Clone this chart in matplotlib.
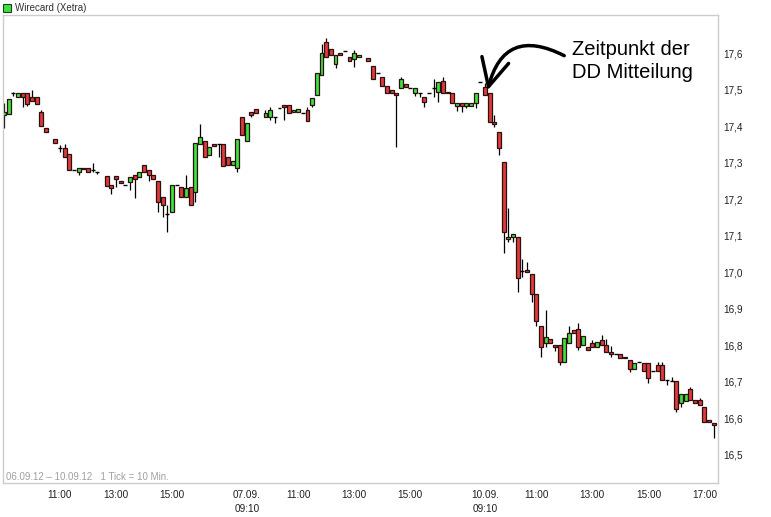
import numpy as np
import matplotlib.pyplot as plt
from matplotlib.patches import FancyArrowPatch, Rectangle

nan = np.nan

# 10 minute candles, 51 slots per trading day (09:00 ... 17:20), nan = no trade in that slot
# 06.09.12
open_d1 = [17.431, 17.434, 17.491, 17.480, 17.491, 17.491, 17.480, 17.480, 17.439, 17.395,
           nan, 17.365, 17.341, 17.341, 17.324, 17.280, 17.275, 17.286, 17.286, 17.280,
           17.275, nan, 17.264, 17.239, 17.264, 17.250, 17.239, 17.247, 17.267, 17.261,
           17.294, 17.280, 17.267, 17.250, 17.206, 17.160, 17.165, 17.239, 17.234, 17.206,
           17.234, 17.220, 17.351, 17.360, 17.321, 17.351, 17.351, 17.351, 17.316, 17.294,
           17.286]
high_d1 = [17.464, 17.475, 17.494, 17.491, 17.491, 17.491, 17.499, 17.480, 17.445, 17.395,
           nan, 17.365, 17.349, 17.351, 17.324, 17.280, 17.286, 17.286, 17.286, 17.299,
           17.275, nan, 17.264, 17.239, 17.264, 17.250, 17.239, 17.261, 17.267, 17.275,
           17.294, 17.280, 17.267, 17.250, 17.206, 17.184, 17.239, 17.239, 17.234, 17.267,
           17.234, 17.354, 17.406, 17.360, 17.343, 17.351, 17.351, 17.351, 17.316, 17.305,
           17.365]
low_d1 = [17.395, 17.434, 17.483, 17.480, 17.453, 17.456, 17.469, 17.461, 17.401, 17.384,
          nan, 17.354, 17.330, 17.316, 17.280, 17.280, 17.267, 17.283, 17.275, 17.275,
          17.269, nan, 17.236, 17.215, 17.234, 17.245, 17.239, 17.225, 17.204, 17.261,
          17.275, 17.250, 17.256, 17.165, 17.151, 17.110, 17.165, 17.239, 17.206, 17.206,
          17.184, 17.193, 17.351, 17.316, 17.321, 17.346, 17.316, 17.291, 17.294, 17.294,
          17.275]
close_d1 = [17.439, 17.475, 17.491, 17.491, 17.480, 17.461, 17.469, 17.461, 17.401, 17.384,
            nan, 17.354, 17.341, 17.316, 17.280, 17.280, 17.286, 17.283, 17.275, 17.280,
            17.275, nan, 17.236, 17.231, 17.256, 17.245, 17.239, 17.261, 17.256, 17.275,
            17.275, 17.267, 17.256, 17.193, 17.184, 17.160, 17.239, 17.239, 17.206, 17.231,
            17.184, 17.354, 17.371, 17.316, 17.343, 17.346, 17.351, 17.291, 17.294, 17.305,
            17.365]

# 07.09.12
open_d2 = [17.425, 17.360, 17.439, 17.447, nan, 17.425, 17.425, 17.425, 17.450, 17.458,
           17.458, 17.439, 17.439, 17.436, 17.445, 17.458, 17.486, 17.540, 17.631, 17.612,
           17.571, 17.601, 17.606, 17.590, 17.584, 17.590, nan, 17.587, 17.565, 17.546,
           17.535, 17.510, 17.499, 17.491, 17.505, 17.516, 17.505, 17.491, 17.491, 17.480,
           17.491, 17.505, 17.494, 17.524, 17.494, 17.491, 17.456, 17.464, 17.456, 17.456,
           17.464]
high_d2 = [17.425, 17.409, 17.439, 17.447, nan, 17.445, 17.453, 17.425, 17.450, 17.458,
           17.458, 17.445, 17.447, 17.436, 17.453, 17.478, 17.546, 17.625, 17.642, 17.612,
           17.595, 17.601, 17.606, 17.590, 17.609, 17.595, nan, 17.587, 17.565, 17.546,
           17.535, 17.510, 17.499, 17.491, 17.535, 17.516, 17.505, 17.505, 17.491, 17.480,
           17.491, 17.530, 17.521, 17.535, 17.494, 17.491, 17.464, 17.464, 17.464, 17.464,
           17.491]
low_d2 = [17.376, 17.360, 17.425, 17.436, nan, 17.425, 17.417, 17.409, 17.450, 17.417,
          17.436, 17.439, 17.439, 17.436, 17.415, 17.453, 17.486, 17.540, 17.590, 17.595,
          17.560, 17.595, 17.606, 17.579, 17.562, 17.590, nan, 17.579, 17.530, 17.546,
          17.510, 17.491, 17.491, 17.343, 17.505, 17.508, 17.505, 17.483, 17.480, 17.453,
          17.491, 17.480, 17.467, 17.491, 17.491, 17.464, 17.442, 17.439, 17.450, 17.456,
          17.450]
close_d2 = [17.376, 17.409, 17.431, 17.436, nan, 17.436, 17.445, 17.425, 17.450, 17.453,
            17.436, 17.445, 17.447, 17.436, 17.415, 17.478, 17.546, 17.601, 17.590, 17.595,
            17.595, 17.595, 17.606, 17.579, 17.601, 17.595, nan, 17.579, 17.530, 17.546,
            17.510, 17.491, 17.491, 17.486, 17.530, 17.508, 17.505, 17.505, 17.491, 17.467,
            17.491, 17.505, 17.521, 17.491, 17.491, 17.464, 17.464, 17.456, 17.464, 17.464,
            17.491]

# 10.09.12
open_d3 = [17.521, 17.508, 17.491, 17.412, 17.384, 17.302, 17.091, 17.097, 17.097, 17.004,
           17.006, 16.995, 16.941, 16.853, 16.806, 16.817, 16.801, 16.801, 16.754, 16.806,
           16.842, 16.845, 16.801, 16.795, 16.806, 16.795, 16.815, 16.801, 16.782, 16.776,
           16.776, 16.768, 16.760, 16.735, 16.754, 16.751, 16.751, 16.730, 16.746, 16.746,
           16.705, 16.702, 16.702, 16.642, 16.647, 16.680, 16.650, 16.650, 16.631, 16.595,
           16.587]
high_d3 = [17.521, 17.519, 17.491, 17.431, 17.384, 17.302, 17.176, 17.105, 17.097, 17.036,
           17.028, 16.995, 16.941, 16.853, 16.897, 16.817, 16.801, 16.801, 16.820, 16.853,
           16.842, 16.861, 16.826, 16.795, 16.815, 16.809, 16.828, 16.817, 16.798, 16.776,
           16.776, 16.768, 16.760, 16.751, 16.754, 16.751, 16.751, 16.730, 16.754, 16.754,
           16.705, 16.713, 16.702, 16.666, 16.666, 16.686, 16.650, 16.656, 16.631, 16.595,
           16.587]
low_d3 = [17.521, 17.486, 17.412, 17.398, 17.321, 17.053, 17.083, 17.083, 16.946, 16.987,
          17.001, 16.919, 16.853, 16.768, 16.795, 16.806, 16.784, 16.746, 16.754, 16.806,
          16.834, 16.787, 16.801, 16.787, 16.795, 16.795, 16.801, 16.782, 16.768, 16.776,
          16.765, 16.765, 16.727, 16.735, 16.754, 16.730, 16.697, 16.730, 16.730, 16.705,
          16.691, 16.702, 16.617, 16.631, 16.647, 16.650, 16.642, 16.636, 16.590, 16.590,
          16.546]
close_d3 = [17.521, 17.486, 17.412, 17.406, 17.341, 17.110, 17.097, 17.105, 16.984, 17.004,
            17.001, 16.941, 16.867, 16.795, 16.823, 16.806, 16.795, 16.754, 16.820, 16.834,
            16.834, 16.795, 16.826, 16.787, 16.795, 16.809, 16.801, 16.782, 16.776, 16.776,
            16.765, 16.765, 16.735, 16.751, 16.754, 16.730, 16.710, 16.730, 16.730, 16.705,
            16.705, 16.702, 16.625, 16.666, 16.666, 16.650, 16.642, 16.636, 16.590, 16.590,
            16.582]

slots_per_day = 51
day_labels = ["06.09.", "07.09.", "10.09."]
# (day index, time) for the x axis labels
tick_days = [0, 0, 0, 1, 1, 1, 1, 2, 2, 2, 2, 2]
tick_times = ["11:00", "13:00", "15:00", "09:10", "11:00", "13:00", "15:00",
              "09:10", "11:00", "13:00", "15:00", "17:00"]
y_ticks = [16.5, 16.6, 16.7, 16.8, 16.9, 17.0, 17.1, 17.2, 17.3, 17.4, 17.5, 17.6]

# DD announcement candle (10.09. 09:20)
dd_day, dd_time = 2, "09:20"

opens = np.array(open_d1 + open_d2 + open_d3)
highs = np.array(high_d1 + high_d2 + high_d3)
lows = np.array(low_d1 + low_d2 + low_d3)
closes = np.array(close_d1 + close_d2 + close_d3)
x = np.arange(len(opens))


def slot_of(day, t):
    h, m = t.split(":")
    return day * slots_per_day + (int(h) * 60 + int(m) - 540) // 10


plt.rcParams['font.family'] = ['Liberation Sans', 'DejaVu Sans']

W, H = 771, 517
fig = plt.figure(figsize=(W / 100, H / 100), dpi=100, facecolor='white')
ax = fig.add_axes([3 / W, 1 - 483 / H, 715 / W, 468 / H])

green = '#3de23d'
red = '#e03a3a'
edge = '#2a1010'
bw = 0.84

up = closes > opens
down = closes < opens
flat = closes == opens

ax.vlines(x, lows, highs, color='black', lw=0.9, zorder=1)
ax.bar(x[up], (closes - opens)[up], bottom=opens[up], width=bw,
       color=green, edgecolor=edge, lw=0.9, zorder=2)
ax.bar(x[down], (opens - closes)[down], bottom=closes[down], width=bw,
       color=red, edgecolor=edge, lw=0.9, zorder=2)
ax.hlines(opens[flat], x[flat] - bw / 2, x[flat] + bw / 2, color='black', lw=1, zorder=2)

ax.set_xlim(-0.2, 152.9)
ax.set_ylim(16.423, 17.705)

# axes styling
for s in ax.spines.values():
    s.set_color('#cccccc')
    s.set_linewidth(1)

ax.yaxis.tick_right()
ax.set_yticks(y_ticks)
ax.set_yticklabels([f"{v:.1f}".replace('.', ',') for v in y_ticks])

tick_pos = [slot_of(d, t) for d, t in zip(tick_days, tick_times)]
tick_lab = []
for i, (d, t) in enumerate(zip(tick_days, tick_times)):
    if i > 0 and tick_days[i - 1] != d:
        tick_lab.append(day_labels[d] + "\n" + t)
    else:
        tick_lab.append(t)
ax.set_xticks(tick_pos)
ax.set_xticklabels(tick_lab)
ax.tick_params(axis='both', length=0, labelsize=7.2, colors='#202020')
ax.tick_params(axis='y', pad=4)
ax.tick_params(axis='x', pad=5)
for lab in ax.get_xticklabels():
    lab.set_linespacing(1.45)

# header
fig.patches.append(Rectangle((3 / W, 1 - 12 / H), 8 / W, 8 / H, transform=fig.transFigure,
                             facecolor=green, edgecolor='#204020', lw=0.8))
fig.text(15 / W, 1 - 8 / H, "Wirecard (Xetra)", fontsize=7, color='#303030', va='center')

# footer
fig.text(6 / W, 1 - 477 / H, "06.09.12 \u2013 10.09.12   1 Tick = 10 Min.",
         fontsize=7, color='#a0a0a0', va='center')

# annotation
dd_x = slot_of(dd_day, dd_time)
ax.text(121.6, 17.579, "Zeitpunkt der\nDD Mitteilung", fontsize=14.5, ha='left', va='center',
        linespacing=1.3, color='black')
arrow = FancyArrowPatch((120.5, 17.590), (dd_x - 0.6, opens[dd_x]),
                        connectionstyle='arc3,rad=0.65',
                        arrowstyle='->,head_length=1.1,head_width=0.55',
                        mutation_scale=18, lw=2.5, color='black', zorder=5)
ax.add_patch(arrow)

plt.savefig('out.png', dpi=100)
